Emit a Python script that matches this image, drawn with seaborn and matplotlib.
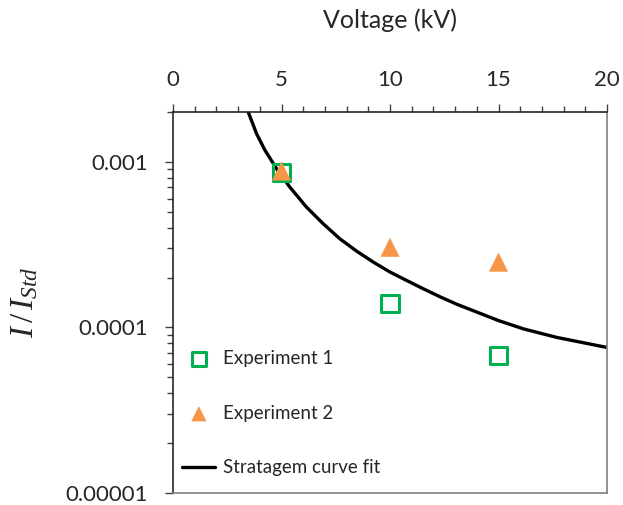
import matplotlib
matplotlib.use("Agg")
import matplotlib.pyplot as plt
import matplotlib.ticker as mticker
import seaborn as sns
import pandas as pd

# ---- data ----
exp1_kv = [5, 10, 15]
exp1_ratio = [8.6e-4, 1.40e-4, 6.8e-5]

exp2_kv = [5, 10, 15]
exp2_ratio = [8.8e-4, 3.05e-4, 2.48e-4]

fit_kv = [3.46, 3.85, 4.23, 4.77, 5.38, 6.15, 6.92, 7.69, 8.46, 9.23, 10.0,
          10.77, 11.54, 12.31, 13.08, 13.85, 15.0, 16.15, 17.69, 20.0]
fit_ratio = [2.01e-3, 1.48e-3, 1.18e-3, 9.1e-4, 7.05e-4, 5.33e-4, 4.23e-4,
             3.43e-4, 2.89e-4, 2.48e-4, 2.16e-4, 1.92e-4, 1.71e-4, 1.53e-4,
             1.38e-4, 1.26e-4, 1.10e-4, 9.8e-5, 8.7e-5, 7.57e-5]

x_ticks = [0, 5, 10, 15, 20]
y_ticks = [1e-5, 1e-4, 1e-3]
y_tick_labels = ["0.00001", "0.0001", "0.001"]

labels = ["Experiment 1", "Experiment 2", "Stratagem curve fit"]

sns.set_style("white")
plt.rcParams["font.family"] = ["Lato", "DejaVu Sans"]
plt.rcParams["mathtext.fontset"] = "custom"
plt.rcParams["mathtext.it"] = "Liberation Serif:italic"
plt.rcParams["mathtext.rm"] = "Liberation Serif"

fig = plt.figure(figsize=(6.23, 5.05), dpi=100)
ax = fig.add_axes([173 / 623, 1 - 493 / 505, 434 / 623, 381 / 505])

df1 = pd.DataFrame({"kv": exp1_kv, "ratio": exp1_ratio})
df2 = pd.DataFrame({"kv": exp2_kv, "ratio": exp2_ratio})
dff = pd.DataFrame({"kv": fit_kv, "ratio": fit_ratio})

sns.lineplot(data=dff, x="kv", y="ratio", ax=ax, color="black", linewidth=2.4,
             label=labels[2], zorder=2, sort=False)
sns.scatterplot(data=df1, x="kv", y="ratio", ax=ax, marker="s", s=150,
                facecolor="none", edgecolor="#00B050", linewidth=2.2,
                label=labels[0], zorder=3)
sns.scatterplot(data=df2, x="kv", y="ratio", ax=ax, marker="^", s=190,
                color="#F79646", edgecolor="none", linewidth=0,
                label=labels[1], zorder=4)

ax.set_yscale("log")
ax.set_xlim(0, 20)
ax.set_ylim(1e-5, 2e-3)

ax.xaxis.set_ticks_position("top")
ax.xaxis.set_label_position("top")
ax.set_xticks(x_ticks)
ax.xaxis.set_minor_locator(mticker.MultipleLocator(1))
ax.set_yticks(y_ticks)
ax.set_yticklabels(y_tick_labels)
ax.yaxis.set_minor_locator(mticker.LogLocator(base=10, subs=range(2, 10)))
ax.yaxis.set_minor_formatter(mticker.NullFormatter())
ax.yaxis.set_ticks_position("left")

ax.tick_params(axis="x", which="major", direction="out", length=6, width=1,
               color="#404040", labelsize=16, pad=10, top=True, bottom=False)
ax.tick_params(axis="x", which="minor", direction="out", length=4, width=1,
               color="#404040", top=True, bottom=False)
ax.tick_params(axis="y", which="major", direction="out", length=6, width=1,
               color="#404040", labelsize=16, pad=12)
ax.tick_params(axis="y", which="minor", direction="out", length=4, width=1,
               color="#404040")

for side in ["top", "left"]:
    ax.spines[side].set_color("#262626")
    ax.spines[side].set_linewidth(1.2)
for side in ["bottom", "right"]:
    ax.spines[side].set_color("#7f7f7f")
    ax.spines[side].set_linewidth(1.2)

ax.set_xlabel("Voltage (kV)", fontsize=18, labelpad=30)
ax.set_ylabel(r"$I\,/\,I_{Std}$", fontsize=24, labelpad=18)

handles, labs = ax.get_legend_handles_labels()
order = [labs.index(l) for l in labels]
ax.legend([handles[i] for i in order], [labs[i] for i in order],
          loc="lower left", bbox_to_anchor=(-0.017, 0.0), frameon=False,
          fontsize=13.5, labelspacing=2.0, handlelength=1.75, handletextpad=0.4,
          markerscale=0.8, borderaxespad=0.6, borderpad=0.3)

fig.savefig("out.png", dpi=100)
